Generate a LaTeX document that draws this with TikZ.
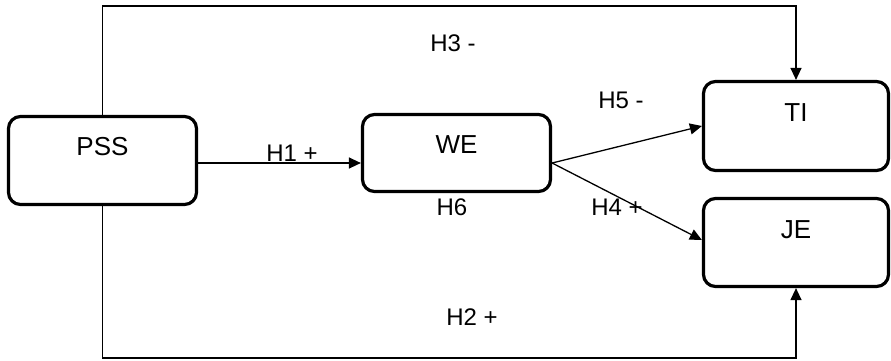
\documentclass[tikz,border=0pt]{standalone}
\usepackage{fontspec}
\setmainfont{Liberation Sans}
\usetikzlibrary{arrows.meta,calc}
\begin{document}
\begin{tikzpicture}[x=1pt,y=-1pt,
  box/.style={draw, line width=3.2pt, rounded corners=12pt, inner sep=0pt},
  boxtext/.style={font=\fontsize{26}{30}\selectfont, inner sep=0pt},
  lbl/.style={font=\fontsize{24}{28}\selectfont, inner sep=0pt},
  conn/.style={line width=1.3pt, -{Triangle[length=12pt,width=11pt]}}]
\useasboundingbox (0,0) rectangle (891,360);
\node[box, minimum width=188pt, minimum height=88pt,
  label={[boxtext, yshift=13.5pt]center:PSS}] (pss) at (102.5,160.5) {};
\node[box, minimum width=188pt, minimum height=77pt,
  label={[boxtext, yshift=8pt]center:WE}] (we) at (456.5,153) {};
\node[box, minimum width=185pt, minimum height=89pt,
  label={[boxtext, yshift=13pt]center:TI}] (ti) at (796,126) {};
\node[box, minimum width=185pt, minimum height=88pt,
  label={[boxtext, yshift=12.5pt]center:JE}] (je) at (796,242.5) {};
\coordinate (topy) at (0,6);
\coordinate (boty) at (0,358);
\coordinate (h1s) at ([yshift=-2.5pt]pss.east);
\coordinate (wes) at ([yshift=-10pt]we.east);
\draw[conn] (pss.north) -- (pss.north |- topy) -| (ti.north);
\draw[conn] (pss.south) -- (pss.south |- boty) -| (je.south);
\draw[conn] (h1s) -- (h1s -| we.west);
\draw[conn] (wes) -- (ti.west);
\draw[conn] (wes) -- ([yshift=2.5pt]je.west);
\node[lbl] (h3) at (453,43) {H3 -};
\node[lbl] (h5) at (621,100) {H5 -};
\node[lbl] (h1) at (292,153) {H1 +};
\node[lbl] (h6) at (452,207) {H6};
\node[lbl] (h4) at (617,207) {H4 +};
\node[lbl] (h2) at (472,317) {H2 +};
\end{tikzpicture}
\end{document}
